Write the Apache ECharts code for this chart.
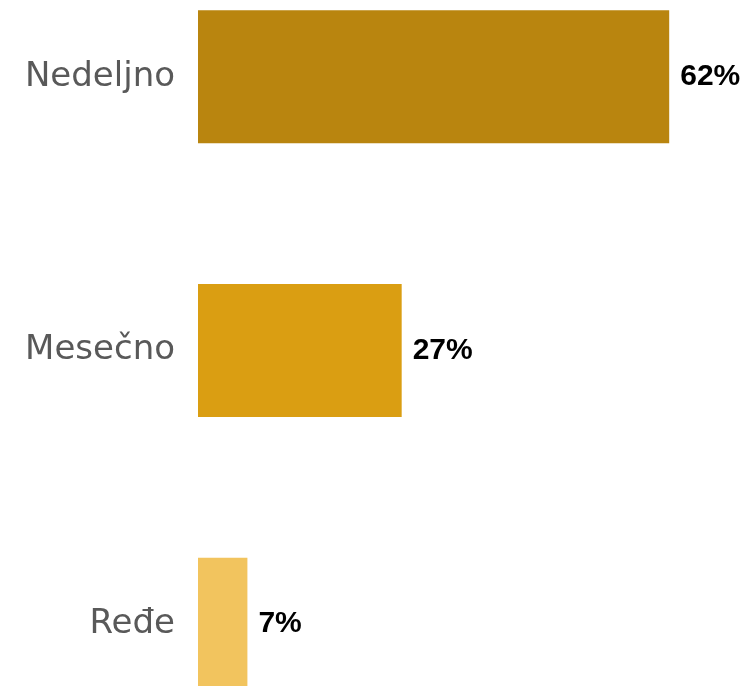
<!DOCTYPE html>
<html>
<head>
<meta charset="utf-8">
<script src="https://cdn.jsdelivr.net/npm/echarts@6/dist/echarts.min.js"></script>
<style>html,body{margin:0;padding:0;background:#fff;overflow:hidden;width:746px;height:686px;position:relative;}#c{position:absolute;left:0;top:-60px;width:746px;height:821px;}</style>
</head>
<body>
<div id="c"></div>
<script>
const categories = ['Nedeljno', 'Mesečno', 'Ređe'];
const values = [62, 26.8, 6.5];
const colors = ['#B9850F', '#DA9E12', '#F2C45E'];

const chart = echarts.init(document.getElementById('c'), null, {renderer: 'canvas'});
chart.setOption({
  animation: false,
  grid: {left: 198, right: 16, top: 0, bottom: 0, containLabel: false},
  xAxis: {type: 'value', min: 0, max: 70, show: false},
  yAxis: {
    type: 'category', data: categories, inverse: true,
    axisLine: {show: false}, axisTick: {show: false}, splitLine: {show: false},
    axisLabel: {margin: 23, color: '#595959', fontSize: 34, fontFamily: 'DejaVu Sans'}
  },
  series: [{
    type: 'bar', barWidth: 133,
    data: values.map((v, i) => ({value: v, itemStyle: {color: colors[i]}})),
    label: {
      show: true, position: 'right', distance: 11,
      formatter: p => Math.round(p.value) + '%',
      color: '#000', fontWeight: 'bold', fontSize: 30, fontFamily: 'Liberation Sans'
    }
  }]
});
</script>
</body>
</html>
